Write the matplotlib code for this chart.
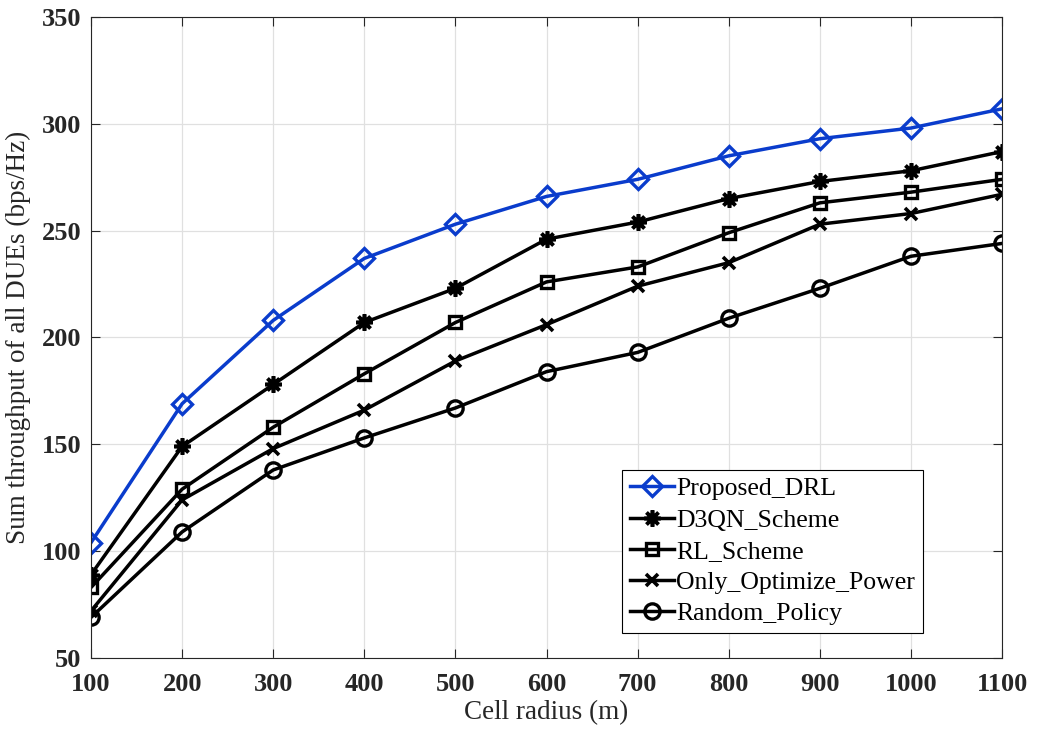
import matplotlib
matplotlib.use('Agg')
import matplotlib.pyplot as plt

plt.rcParams['font.family'] = ['Liberation Serif', 'DejaVu Serif']

# data
radius = [100, 200, 300, 400, 500, 600, 700, 800, 900, 1000, 1100]
proposed_drl = [104, 169, 208, 237, 253, 266, 274, 285, 293, 298, 307]
d3qn_scheme = [89, 149, 178, 207, 223, 246, 254, 265, 273, 278, 287]
rl_scheme = [83, 129, 158, 183, 207, 226, 233, 249, 263, 268, 274]
only_power = [72, 124, 148, 166, 189, 206, 224, 235, 253, 258, 267]
random_policy = [69, 109, 138, 153, 167, 184, 193, 209, 223, 238, 244]

fig = plt.figure(figsize=(10.38, 7.36), dpi=100)
ax = fig.add_axes([0.0877, 0.106, 0.8777, 0.871])

lw = 2.5
ax.plot(radius, proposed_drl, '-D', color='#0a3ccc', lw=lw, ms=10, mfc='none', mew=2.4, label='Proposed_DRL')
ax.plot(radius, d3qn_scheme, '-', marker=(8, 2, 0), color='k', lw=lw, ms=12, mew=2.6, label='D3QN_Scheme')
ax.plot(radius, rl_scheme, '-s', color='k', lw=lw, ms=9, mfc='none', mew=2.4, label='RL_Scheme')
ax.plot(radius, only_power, '-x', color='k', lw=lw, ms=9, mew=2.6, label='Only_Optimize_Power')
ax.plot(radius, random_policy, '-o', color='k', lw=lw, ms=11, mfc='none', mew=2.4, label='Random_Policy')

ax.set_xlim(100, 1100)
ax.set_ylim(50, 350)
ax.set_xticks(radius)
ax.set_yticks(range(50, 351, 50))
ax.grid(True, color='#e0e0e0', lw=0.9)
ax.tick_params(direction='in', length=6.5, width=0.8, labelsize=19, top=True, right=True,
               colors='#262626')
ax.tick_params(axis='x', pad=11)
ax.tick_params(axis='y', pad=7)
for lab in ax.get_xticklabels() + ax.get_yticklabels():
    lab.set_fontweight('bold')
for sp in ax.spines.values():
    sp.set_linewidth(0.8)
    sp.set_color('#262626')

ax.set_xlabel('Cell radius (m)', fontsize=19.5, color='#262626', labelpad=3)
ax.set_ylabel('Sum throughput of all DUEs (bps/Hz)', fontsize=19.5, color='#262626', labelpad=8)

leg = ax.legend(loc='lower left', bbox_to_anchor=(0.583, 0.039), fontsize=18.5, fancybox=False,
                edgecolor='k', framealpha=1, borderpad=0.3, labelspacing=0.32,
                handlelength=1.7, handletextpad=0.1, borderaxespad=0)
leg.get_frame().set_linewidth(0.8)

fig.savefig('out.png', dpi=100)
